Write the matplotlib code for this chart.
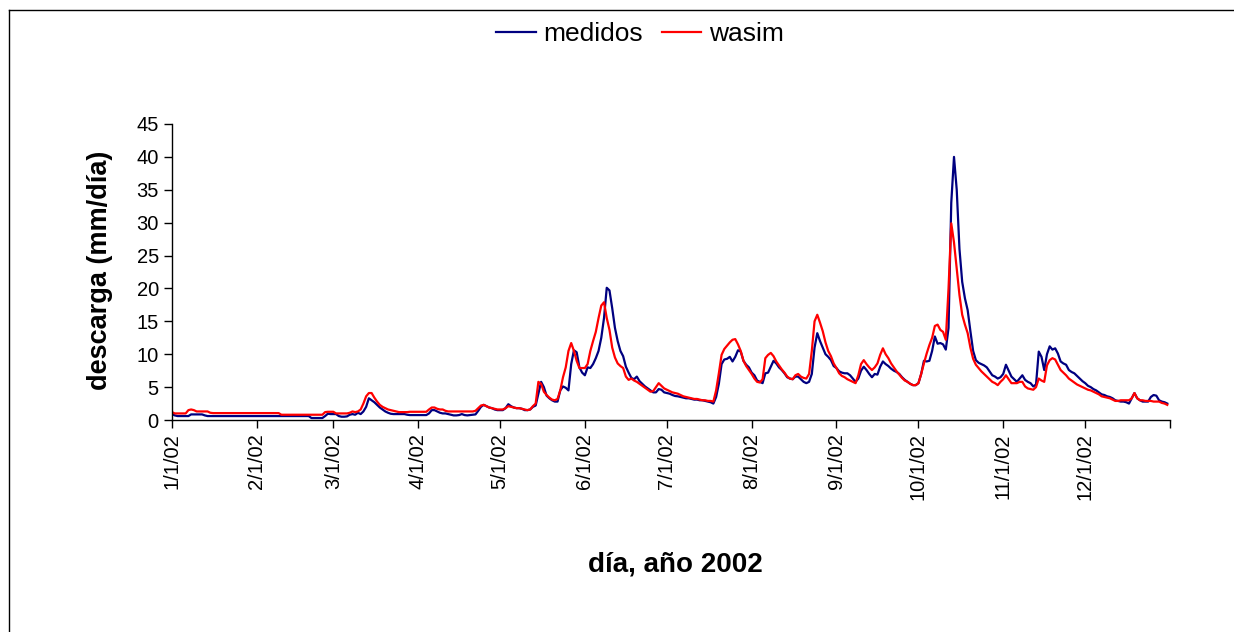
import matplotlib
matplotlib.use('Agg')
import matplotlib.pyplot as plt
from matplotlib.lines import Line2D
import datetime as dt

plt.rcParams['font.family'] = ['Liberation Sans', 'DejaVu Sans']

# ---- data (mm/día), daily values of 2002 ----
jan_m = [0.9, 0.7, 0.6, 0.6, 0.6, 0.6, 0.6, 0.85, 0.85, 0.85, 0.85, 0.85, 0.7, 0.6, 0.6, 0.6,
         0.6, 0.6, 0.6, 0.6, 0.6, 0.6, 0.6, 0.6, 0.6, 0.6, 0.6, 0.6, 0.6, 0.6, 0.6]
feb_m = [0.6, 0.6, 0.6, 0.6, 0.6, 0.6, 0.6, 0.6, 0.6, 0.6, 0.6, 0.6, 0.6, 0.6, 0.6, 0.6,
         0.6, 0.6, 0.6, 0.6, 0.3, 0.3, 0.3, 0.3, 0.3, 0.6, 0.95, 0.9]
mar_m = [0.9, 0.9, 0.6, 0.5, 0.5, 0.55, 0.8, 0.9, 0.8, 1.1, 0.9, 1.3, 2.0, 3.3, 3.0, 2.7,
         2.3, 1.9, 1.6, 1.3, 1.1, 0.95, 0.9, 0.9, 0.9, 0.9, 0.9, 0.8, 0.75, 0.75, 0.75]
apr_m = [0.75, 0.75, 0.75, 0.75, 1.0, 1.5, 1.5, 1.3, 1.1, 1.0, 1.0, 0.9, 0.8, 0.7, 0.7,
         0.75, 0.9, 0.75, 0.7, 0.75, 0.8, 0.85, 1.4, 2.0, 2.3, 2.1, 1.9, 1.8, 1.6, 1.5]
may_m = [1.5, 1.5, 1.8, 2.4, 2.1, 1.9, 1.8, 1.8, 1.7, 1.5, 1.5, 1.6, 2.0, 2.2, 4.0, 5.8,
         5.0, 3.7, 3.3, 3.0, 2.8, 2.8, 4.5, 5.1, 4.9, 4.5, 8.5, 10.6, 10.3, 8.0, 7.2]
jun_m = [6.8, 8.0, 7.9, 8.5, 9.4, 10.5, 12.5, 15.5, 20.1, 19.7, 17.0, 14.0, 12.0, 10.5, 9.7,
         8.1, 7.2, 6.4, 6.2, 6.6, 5.9, 5.5, 5.1, 4.8, 4.5, 4.2, 4.2, 4.7, 4.6, 4.2]
jul_m = [4.1, 4.0, 3.8, 3.65, 3.6, 3.5, 3.4, 3.3, 3.3, 3.2, 3.1, 3.1, 3.0, 3.0, 2.9, 2.8,
         2.7, 2.5, 3.5, 5.5, 8.5, 9.2, 9.3, 9.6, 8.9, 9.6, 10.6, 10.4, 9.0, 8.4, 8.0]
aug_m = [7.2, 6.8, 6.0, 5.8, 5.6, 7.1, 7.2, 8.1, 9.0, 8.6, 8.0, 7.6, 7.1, 6.5, 6.3, 6.2,
         6.6, 6.6, 6.2, 5.8, 5.6, 5.8, 7.0, 11.0, 13.2, 12.0, 11.0, 10.0, 9.6, 9.1, 8.2]
sep_m = [7.9, 7.4, 7.2, 7.1, 7.1, 6.8, 6.3, 5.8, 6.3, 7.5, 8.1, 7.6, 7.0, 6.5, 7.0, 6.9,
         8.1, 8.9, 8.5, 8.2, 7.8, 7.5, 7.3, 7.0, 6.5, 6.1, 5.8, 5.5, 5.3, 5.3]
oct_m = [5.6, 7.0, 9.0, 8.9, 9.0, 10.5, 12.7, 11.6, 11.7, 11.5, 10.7, 14.0, 33.0, 40.0,
         35.0, 26.0, 21.0, 18.5, 16.7, 13.5, 10.5, 9.1, 8.7, 8.5, 8.3, 8.0, 7.4, 6.8, 6.6,
         6.3, 6.5]
nov_m = [7.0, 8.4, 7.5, 6.6, 6.2, 5.8, 6.3, 6.8, 6.1, 5.8, 5.6, 5.1, 5.4, 10.4, 9.6, 7.6,
         10.0, 11.2, 10.7, 10.9, 10.1, 8.9, 8.6, 8.4, 7.6, 7.3, 7.1, 6.7, 6.3, 5.9]
dec_m = [5.6, 5.2, 5.0, 4.7, 4.5, 4.2, 3.9, 3.8, 3.6, 3.5, 3.3, 3.0, 2.9, 2.8, 2.8, 2.7,
         2.5, 3.3, 4.1, 3.3, 3.0, 2.8, 2.8, 2.8, 3.5, 3.8, 3.7, 3.0, 2.8, 2.7, 2.5]

jan_w = [1.2, 1.0, 1.0, 1.0, 1.0, 1.0, 1.5, 1.6, 1.5, 1.3, 1.3, 1.3, 1.3, 1.3, 1.1, 1.05,
         1.05, 1.05, 1.05, 1.05, 1.05, 1.05, 1.05, 1.05, 1.05, 1.05, 1.05, 1.05, 1.05, 1.05, 1.05]
feb_w = [1.05, 1.05, 1.05, 1.05, 1.05, 1.05, 1.05, 1.05, 1.05, 0.8, 0.8, 0.8, 0.8, 0.8,
         0.8, 0.8, 0.8, 0.8, 0.8, 0.8, 0.8, 0.8, 0.8, 0.8, 0.8, 1.2, 1.25, 1.25]
mar_w = [1.25, 1.0, 1.0, 1.0, 1.0, 1.0, 1.1, 1.3, 1.2, 1.3, 1.6, 2.5, 3.6, 4.1, 4.1, 3.4,
         2.8, 2.3, 2.0, 1.8, 1.6, 1.5, 1.4, 1.3, 1.2, 1.2, 1.2, 1.2, 1.25, 1.25, 1.25]
apr_w = [1.25, 1.25, 1.25, 1.25, 1.6, 1.9, 1.9, 1.7, 1.6, 1.6, 1.4, 1.3, 1.3, 1.3, 1.3,
         1.3, 1.3, 1.3, 1.3, 1.3, 1.3, 1.4, 1.8, 2.2, 2.3, 2.1, 1.9, 1.8, 1.7, 1.6]
may_w = [1.6, 1.6, 1.8, 2.1, 2.0, 1.9, 1.8, 1.8, 1.7, 1.6, 1.5, 1.6, 2.1, 2.5, 5.8, 5.5,
         4.3, 3.8, 3.4, 3.1, 3.0, 3.2, 4.5, 6.5, 8.0, 10.5, 11.7, 10.5, 9.0, 7.9, 7.9]
jun_w = [7.9, 8.5, 10.5, 12.0, 13.4, 15.5, 17.4, 17.9, 15.5, 13.7, 11.0, 9.5, 8.6, 8.2,
         7.9, 6.6, 6.1, 6.3, 6.0, 5.8, 5.5, 5.2, 4.9, 4.6, 4.3, 4.4, 5.0, 5.6, 5.2, 4.8]
jul_w = [4.6, 4.4, 4.2, 4.1, 4.0, 3.8, 3.6, 3.5, 3.4, 3.3, 3.2, 3.2, 3.1, 3.0, 3.0, 2.9,
         2.9, 2.8, 4.5, 7.1, 9.9, 10.8, 11.3, 11.8, 12.2, 12.3, 11.5, 10.5, 9.0, 8.2, 7.6]
aug_w = [7.0, 6.3, 5.8, 5.7, 6.2, 9.4, 9.9, 10.2, 9.7, 8.9, 8.3, 7.7, 7.2, 6.6, 6.3, 6.2,
         6.8, 7.0, 6.6, 6.4, 6.3, 7.0, 10.5, 15.0, 16.0, 14.8, 13.5, 11.8, 10.5, 9.7, 8.6]
sep_w = [7.9, 7.1, 6.7, 6.5, 6.2, 6.0, 5.8, 5.6, 6.8, 8.5, 9.1, 8.5, 8.0, 7.6, 8.0, 8.6,
         9.9, 10.9, 10.0, 9.4, 8.6, 8.0, 7.4, 6.9, 6.4, 6.0, 5.8, 5.5, 5.3, 5.3]
oct_w = [5.6, 7.0, 8.6, 10.1, 11.4, 12.5, 14.3, 14.5, 13.7, 13.4, 12.2, 20.0, 29.9, 27.0,
         23.0, 19.0, 16.0, 14.5, 13.2, 11.0, 9.3, 8.4, 7.9, 7.4, 7.0, 6.6, 6.2, 5.8, 5.6,
         5.3, 5.8]
nov_w = [6.2, 6.8, 6.2, 5.6, 5.6, 5.6, 5.8, 5.8, 5.1, 4.8, 4.7, 4.6, 5.0, 6.3, 6.0, 5.8,
         8.3, 9.1, 9.4, 9.2, 8.4, 7.6, 7.2, 6.8, 6.3, 6.0, 5.7, 5.4, 5.2, 5.0]
dec_w = [4.8, 4.6, 4.5, 4.3, 4.1, 3.9, 3.6, 3.5, 3.4, 3.3, 3.1, 2.9, 2.9, 3.0, 3.0, 3.0,
         3.0, 3.3, 4.1, 3.3, 3.0, 3.0, 2.9, 2.9, 2.9, 2.8, 2.8, 2.8, 2.6, 2.5, 2.3]

tick_labels = ["1/1/02", "2/1/02", "3/1/02", "4/1/02", "5/1/02", "6/1/02",
               "7/1/02", "8/1/02", "9/1/02", "10/1/02", "11/1/02", "12/1/02"]
y_ticks = [0, 5, 10, 15, 20, 25, 30, 35, 40, 45]

medidos = (jan_m + feb_m + mar_m + apr_m + may_m + jun_m + jul_m + aug_m + sep_m
           + oct_m + nov_m + dec_m)
wasim = (jan_w + feb_w + mar_w + apr_w + may_w + jun_w + jul_w + aug_w + sep_w
         + oct_w + nov_w + dec_w)
start = dt.date(2002, 1, 1)
dates = [start + dt.timedelta(days=i) for i in range(len(medidos))]

W, H = 1234, 632
fig = plt.figure(figsize=(W / 100, H / 100), dpi=100)
fig.patch.set_facecolor('white')

ax = fig.add_axes([172 / W, 1 - 420 / H, (1170 - 172) / W, (420 - 124) / H])
ax.plot(dates, medidos, color='#000080', lw=1.6, label='medidos')
ax.plot(dates, wasim, color='#FF0000', lw=1.6, label='wasim')

ax.set_xlim(start, dt.date(2003, 1, 1))
ax.set_ylim(0, 45)
ax.set_yticks(y_ticks)
ticks = [dt.date(2002, m, 1) for m in range(1, 13)] + [dt.date(2003, 1, 1)]
ax.set_xticks(ticks)
ax.set_xticklabels(tick_labels + [''], rotation=90, va='top', ha='center')
for s in ['top', 'right']:
    ax.spines[s].set_visible(False)
for s in ['left', 'bottom']:
    ax.spines[s].set_color('#000000')
    ax.spines[s].set_linewidth(1.0)
ax.tick_params(direction='out', length=6, width=1, labelsize=14.5, pad=3.5,
               colors='#000000')

fig.text(100 / W, 1 - 270 / H, 'descarga (mm/día)', rotation=90, ha='center',
         va='center', fontsize=19.5, fontweight='bold')
fig.text(675 / W, 1 - 564 / H, 'día, año 2002', ha='center', va='center',
         fontsize=20, fontweight='bold')

fig.legend(loc='center', bbox_to_anchor=(640 / W, 1 - 34 / H), ncol=2, frameon=False,
           fontsize=19, handlelength=1.5, handletextpad=0.3, columnspacing=0.7)

# outer chart frame
fig.add_artist(Line2D([9 / W, 1.0], [1 - 10 / H, 1 - 10 / H], transform=fig.transFigure,
                      color='#000000', lw=1.0))
fig.add_artist(Line2D([9 / W, 9 / W], [1 - 10 / H, 0.0], transform=fig.transFigure,
                      color='#000000', lw=1.0))

fig.savefig('out.png', dpi=100, facecolor='white')
